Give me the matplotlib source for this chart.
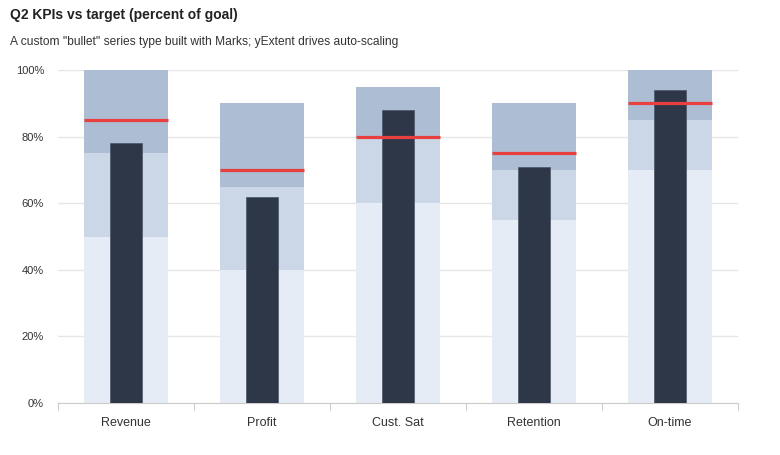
import matplotlib
matplotlib.use("Agg")
import matplotlib.pyplot as plt
import numpy as np

categories = ["Revenue", "Profit", "Cust. Sat", "Retention", "On-time"]
range_low = [50, 40, 60, 55, 70]
range_mid = [75, 65, 80, 70, 85]
range_high = [100, 90, 95, 90, 100]
targets = [85, 70, 80, 75, 90]
actuals = [78, 62, 88, 71, 94]
yticks = [0, 20, 40, 60, 80, 100]

plt.rcParams['font.family'] = ['Liberation Sans', 'DejaVu Sans']

fig = plt.figure(figsize=(7.8, 4.55), dpi=100)
W, H = 780, 455
ax = fig.add_axes([58 / W, 1 - 403 / H, (738 - 58) / W, (403 - 70) / H])

x = np.arange(len(categories))
rw = 84 / 136
aw = 32 / 136

c_low, c_mid, c_high = "#e5ecf5", "#cbd7e6", "#adbdd4"
ax.bar(x, range_high, width=rw, color=c_high, zorder=2)
ax.bar(x, range_mid, width=rw, color=c_mid, zorder=2)
ax.bar(x, range_low, width=rw, color=c_low, zorder=2)
ax.bar(x, actuals, width=aw, color="#2e3748", edgecolor="#4a5568", linewidth=0.5, zorder=3)
for xi, t in zip(x, targets):
    ax.hlines(t, xi - rw / 2, xi + rw / 2, color="#e8403f", linewidth=2.3, zorder=4)

ax.set_xlim(-0.5, len(categories) - 0.5)
ax.set_ylim(0, 100)
ax.set_yticks(yticks)
ax.set_yticklabels([f"{v}%" for v in yticks], fontsize=8, color="#333333")
ax.yaxis.grid(True, color="#e6e6e6", linewidth=1, zorder=0)
ax.set_axisbelow(True)
ax.tick_params(axis="y", length=0, pad=10)

ax.set_xticks(x)
ax.set_xticklabels(categories, fontsize=9, color="#333333")
ax.set_xticks(np.arange(-0.5, len(categories)), minor=True)
ax.tick_params(axis="x", which="major", length=0, pad=10)
ax.tick_params(axis="x", which="minor", length=5, color="#cccccc", width=0.8)

for s in ["top", "right", "left"]:
    ax.spines[s].set_visible(False)
ax.spines["bottom"].set_color("#cccccc")
ax.spines["bottom"].set_linewidth(0.8)

fig.text(10 / W, 1 - 15 / H, "Q2 KPIs vs target (percent of goal)", fontsize=10, fontweight="bold",
         color="#222222", va="center", ha="left")
fig.text(10 / W, 1 - 42 / H, 'A custom "bullet" series type built with Marks; yExtent drives auto-scaling',
         fontsize=8.65, color="#333333", va="center", ha="left")

fig.savefig("out.png", dpi=100)
